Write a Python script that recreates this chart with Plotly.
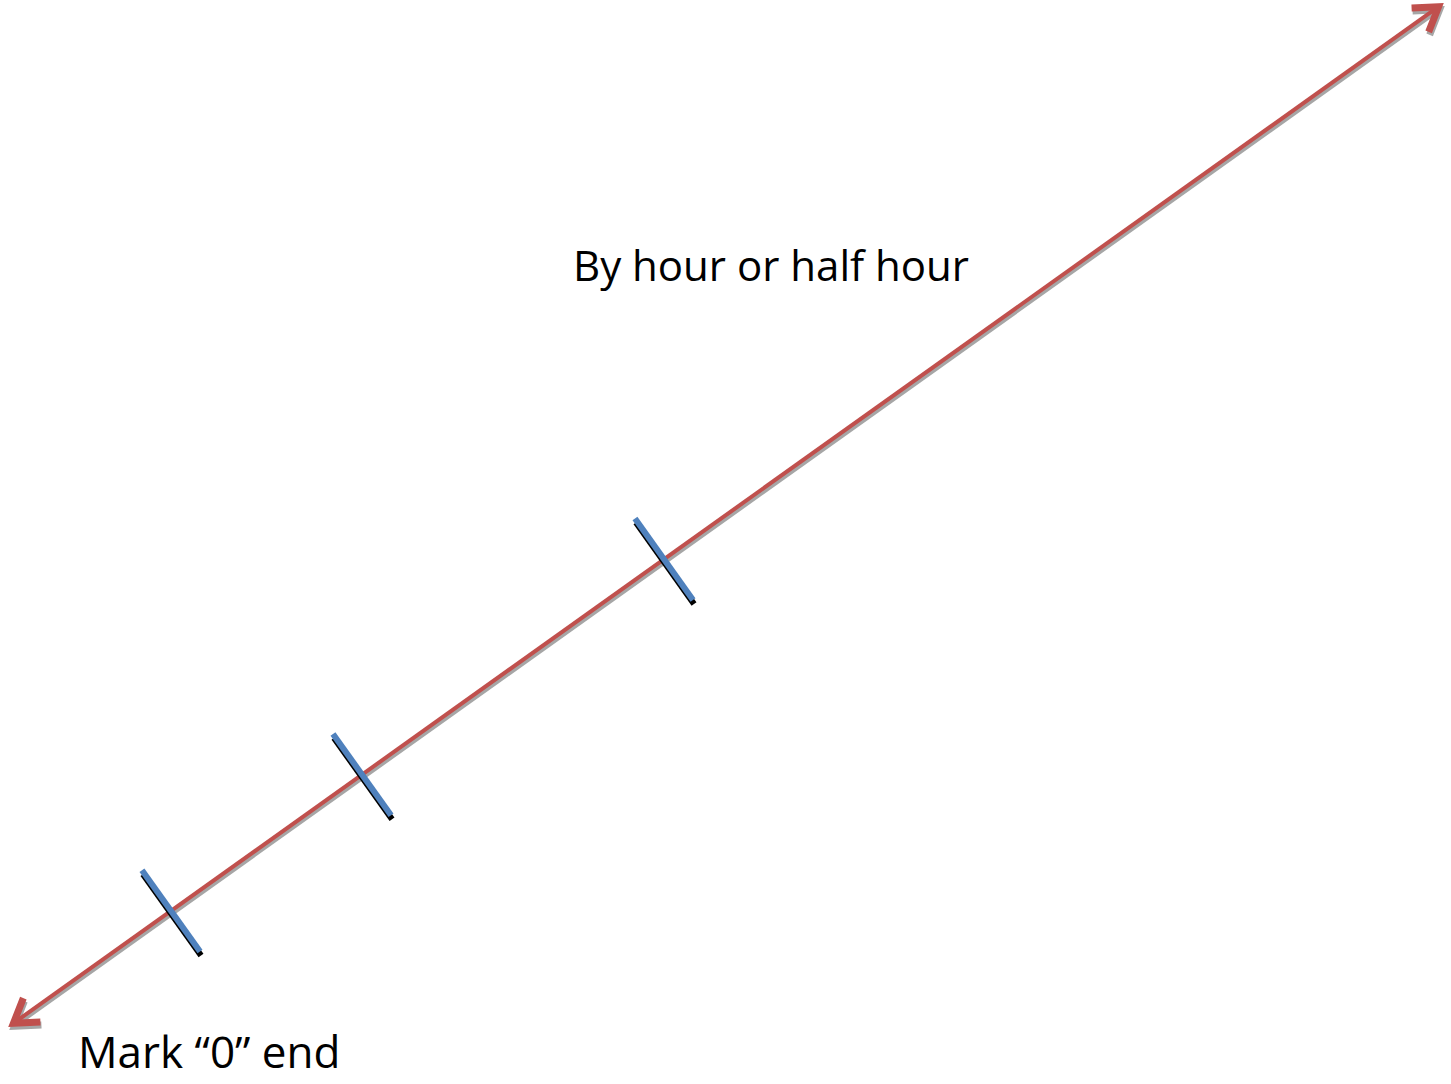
import numpy as np
import plotly.graph_objects as go

W, H = 1451, 1084

# Number line endpoints (pixel space of the picture)
line_x = [11, 1441]
line_y = [1025, 5]

# Tick mark positions along the line (x of tick centre)
tick_x = [171, 362, 664]
tick_half_len = 50

labels = ["By hour or half hour", "Mark \u201c0\u201d end"]
label_x = [771, 209]
label_y = [264, 1083]
label_anchor = ["middle", "bottom"]
label_size = [42, 44]

RED = "#C0504D"
BLUE = "#4F81BD"
SHADOW = "#A6A6A6"

fig = go.Figure()

x0, x1 = line_x
y0, y1 = line_y
d = np.array([x1 - x0, y1 - y0], dtype=float)
u = d / np.linalg.norm(d)          # direction from 0-end to far end
n = np.array([-u[1], u[0]])        # perpendicular

def line_y_at(x):
    return y0 + (x - x0) * (y1 - y0) / (x1 - x0)

def add_seg(xs, ys, color, width):
    fig.add_trace(go.Scatter(x=xs, y=ys, mode="lines",
                             line=dict(color=color, width=width),
                             hoverinfo="skip", showlegend=False))

def chevron(tip, direction, arm=27, ang=np.deg2rad(33)):
    c, s = np.cos(ang), np.sin(ang)
    r1 = np.array([c * direction[0] - s * direction[1], s * direction[0] + c * direction[1]])
    r2 = np.array([c * direction[0] + s * direction[1], -s * direction[0] + c * direction[1]])
    p1 = tip + arm * r1
    p2 = tip + arm * r2
    return [p1[0], tip[0], p2[0]], [p1[1], tip[1], p2[1]]

tipA = np.array([x0, y0], dtype=float) + 3 * u
tipB = np.array([x1, y1], dtype=float) - 3 * u

for off, col in [(np.array([1, 3]), SHADOW), (np.array([0, 0]), RED)]:
    add_seg([x0 + 6 * u[0] + off[0], x1 - 6 * u[0] + off[0]],
            [y0 + 6 * u[1] + off[1], y1 - 6 * u[1] + off[1]], col, 4)
    cx, cy = chevron(tipA + off, u)
    add_seg(cx, cy, col, 7)
    cx, cy = chevron(tipB + off, -u)
    add_seg(cx, cy, col, 7)

# ticks
for tx in tick_x:
    c = np.array([tx, line_y_at(tx)])
    a = c - tick_half_len * n
    b = c + tick_half_len * n
    add_seg([a[0] + 1, b[0] + 1], [a[1] + 4, b[1] + 4], "#000000", 6)
    add_seg([a[0], b[0]], [a[1], b[1]], BLUE, 6)

for t, lx, ly, ya, fs in zip(labels, label_x, label_y, label_anchor, label_size):
    fig.add_annotation(x=lx, y=ly, text=t, showarrow=False,
                       font=dict(family="Open Sans, sans-serif", size=fs, color="#000000"),
                       xanchor="center", yanchor=ya)

fig.update_layout(
    width=W, height=H,
    margin=dict(l=0, r=0, t=0, b=0),
    paper_bgcolor="white", plot_bgcolor="white",
    xaxis=dict(range=[0, W], visible=False, fixedrange=True),
    yaxis=dict(range=[H, 0], visible=False, fixedrange=True),
)

fig.write_html("out.html", config={"displayModeBar": False},
               post_script="document.body.style.margin='0';document.body.style.overflow='hidden';")
